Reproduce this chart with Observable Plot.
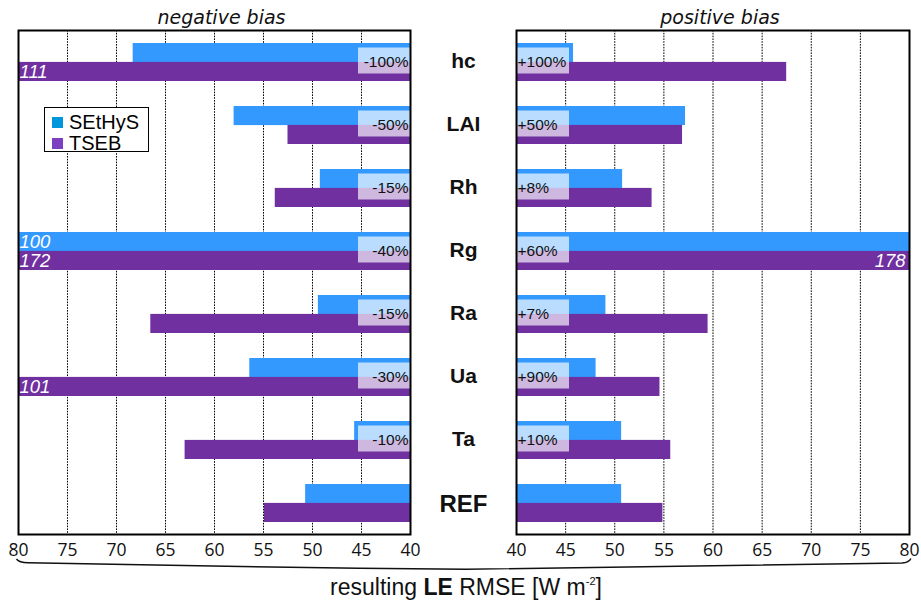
<!DOCTYPE html>
<html>
<head>
<meta charset="utf-8">
<script src="https://cdn.jsdelivr.net/npm/d3@7"></script>
<script src="https://cdn.jsdelivr.net/npm/@observablehq/plot@0.6"></script>
<style>
  html, body { margin: 0; padding: 0; background: white; }
  #wrap { position: relative; width: 921px; height: 601px; overflow: hidden; font-family: "Liberation Sans", Arial, sans-serif; }
  #legend { position: absolute; left: 44px; top: 107px; width: 103px; height: 43px; border: 1.5px solid black; background: white; padding: 0; }
  .item { position: absolute; left: 7px; font-size: 20px; line-height: 20px; color: black; white-space: nowrap; }
  .sw { display: inline-block; width: 11px; height: 11px; margin-right: 6px; vertical-align: 1px; }
  #xlabel { position: absolute; left: 0; width: 932px; top: 576px; text-align: center; font-size: 23px; line-height: 22px; color: #111; }
  #xlabel sup { font-size: 11px; line-height: 0; vertical-align: 10px; }
  #brace { position: absolute; left: 0; top: 0; }
</style>
</head>
<body>
<div id="wrap"></div>
<script>
// ---- data ----
const categories = ["hc", "LAI", "Rh", "Rg", "Ra", "Ua", "Ta", "REF"];
const models = ["SEtHyS", "TSEB"];
// negative-bias panel (LE RMSE, W m-2)
const negSEtHyS = [68.3, 58.0, 49.2, 100, 49.4, 56.4, 45.7, 50.7];
const negTSEB   = [111, 52.5, 53.8, 172, 66.5, 101, 63.0, 54.9];
const negBias   = ["-100%", "-50%", "-15%", "-40%", "-15%", "-30%", "-10%", ""];
// positive-bias panel
const posSEtHyS = [45.8, 57.2, 50.8, 80, 49.1, 48.1, 50.7, 50.7];
const posTSEB   = [67.5, 56.9, 53.8, 178, 59.5, 54.6, 55.7, 54.9];
const posBias   = ["+100%", "+50%", "+8%", "+60%", "+7%", "+90%", "+10%", ""];
const xTicks = [40, 45, 50, 55, 60, 65, 70, 75, 80];
const titles = ["negative bias", "positive bias"];

// ---- styling ----
const barColors = ["#3399ff", "#7030a0"];
const legendColors = ["#0096db", "#7b3fbf"];
const H = 560, MT = 30, MB = 26;
const padInner = 0.4, padOuter = 0.2;
const step = (H - MT - MB) / (categories.length - padInner + 2 * padOuter);
const bw = step * (1 - padInner);
const half = bw / 2;
const lo = d3.min(xTicks), hi = d3.max(xTicks);
const sans = "Liberation Sans, Arial, sans-serif";

function panel({sVals, tVals, bias, title, reversed, width, ml, mr, withCats}) {
  const rows = categories.flatMap((c, i) => [
    {cat: c, model: models[0], value: sVals[i]},
    {cat: c, model: models[1], value: tVals[i]}
  ]);
  const biasRows = categories.map((c, i) => ({cat: c, label: bias[i]})).filter(d => d.label);
  const over = rows.filter(d => d.value > hi);
  const marks = [
    Plot.ruleX(xTicks.filter(t => t > lo && t < hi), {stroke: "black", strokeWidth: 1, strokeDasharray: "1.6,1.2"}),
    Plot.barX(rows.filter(d => d.model === models[0]), {y: "cat", x1: lo, x2: "value", fill: barColors[0], insetBottom: half}),
    Plot.barX(rows.filter(d => d.model === models[1]), {y: "cat", x1: lo, x2: "value", fill: barColors[1], insetTop: half}),
    Plot.barX(biasRows, reversed
      ? {y: "cat", x1: lo, x2: lo, fill: "white", fillOpacity: 0.66, insetLeft: -52, insetTop: 4.5, insetBottom: 7.5}
      : {y: "cat", x1: lo, x2: lo, fill: "white", fillOpacity: 0.66, insetRight: -53, insetTop: 4.5, insetBottom: 7.5}),
    Plot.text(biasRows, {y: "cat", x: lo, text: "label", textAnchor: reversed ? "end" : "start", dx: reversed ? -2 : 1,
      fontSize: 15.5, fill: "#111", fontFamily: sans}),
    Plot.text(over.filter(d => d.model === models[0]), {y: "cat", x: hi, text: d => String(d.value),
      textAnchor: reversed ? "start" : "end", dx: reversed ? 1 : -4, dy: -half / 2 + 0.5, fill: "white",
      fontStyle: "italic", fontSize: 18.5, fontFamily: sans}),
    Plot.text(over.filter(d => d.model === models[1]), {y: "cat", x: hi, text: d => String(d.value),
      textAnchor: reversed ? "start" : "end", dx: reversed ? 1 : -4, dy: half / 2 + 0.5, fill: "white",
      fontStyle: "italic", fontSize: 18.5, fontFamily: sans}),
    Plot.frame({stroke: "black", strokeWidth: 2}),
    Plot.axisX({ticks: xTicks, tickSize: 0, tickPadding: 9, fontSize: 17.5, fontFamily: "Open Sans, sans-serif", fill: "#111", label: null, tickFormat: d => String(d)}),
    Plot.text([title], {frameAnchor: "top", lineAnchor: "middle", text: d => d, dy: -13, dx: 7, fontSize: 19, fontStyle: "italic",
      fontFamily: "DejaVu Sans, sans-serif", fill: "#111"})
  ];
  if (withCats) {
    marks.push(Plot.text(categories.filter(c => c !== "REF"), {y: d => d, text: d => d, frameAnchor: "right", dx: 53,
      textAnchor: "middle", fontWeight: "bold", fontSize: 21, fill: "#111", dy: -1.5}));
    marks.push(Plot.text(categories.filter(c => c === "REF"), {y: d => d, text: d => d, frameAnchor: "right", dx: 53,
      textAnchor: "middle", fontWeight: "bold", fontSize: 24, fill: "#111", dy: 1}));
  }
  return Plot.plot({
    width, height: H, marginTop: MT, marginBottom: MB, marginLeft: ml, marginRight: mr,
    style: {background: "transparent", fontFamily: sans, overflow: "visible"},
    x: {domain: reversed ? [hi, lo] : [lo, hi], clamp: true, label: null},
    y: {domain: categories, paddingInner: padInner, paddingOuter: padOuter, axis: null, label: null},
    marks
  });
}

const wrap = document.getElementById("wrap");
const left = panel({sVals: negSEtHyS, tVals: negTSEB, bias: negBias, title: titles[0], reversed: true,
  width: 516, ml: 18, mr: 106, withCats: true});
Object.assign(left.style, {position: "absolute", left: "0px", top: "0px"});
wrap.appendChild(left);
const right = panel({sVals: posSEtHyS, tVals: posTSEB, bias: posBias, title: titles[1], reversed: false,
  width: 421, ml: 16, mr: 12, withCats: false});
Object.assign(right.style, {position: "absolute", left: "500px", top: "0px"});
wrap.appendChild(right);

// legend
const legend = document.createElement("div");
legend.id = "legend";
models.forEach((m, i) => {
  const it = document.createElement("div");
  it.className = "item";
  it.style.top = (4 + i * 21) + "px";
  it.innerHTML = `<span class="sw" style="background:${legendColors[i]}"></span>${m}`;
  legend.appendChild(it);
});
wrap.appendChild(legend);

// brace under both axes
const ns = "http://www.w3.org/2000/svg";
const brace = document.createElementNS(ns, "svg");
brace.setAttribute("id", "brace");
brace.setAttribute("width", 921);
brace.setAttribute("height", 601);
const path = document.createElementNS(ns, "path");
path.setAttribute("d", "M16.5,559 Q19,562.5 28,562.8 Q240,567 466,569.3 Q690,567 902,563 Q909,562.5 911,558.5");
path.setAttribute("fill", "none");
path.setAttribute("stroke", "#111");
path.setAttribute("stroke-width", "1.4");
brace.appendChild(path);
wrap.appendChild(brace);

// x label
const xl = document.createElement("div");
xl.id = "xlabel";
xl.innerHTML = "resulting <b>LE</b> RMSE [W m<sup>-2</sup>]";
wrap.appendChild(xl);
</script>
</body>
</html>
